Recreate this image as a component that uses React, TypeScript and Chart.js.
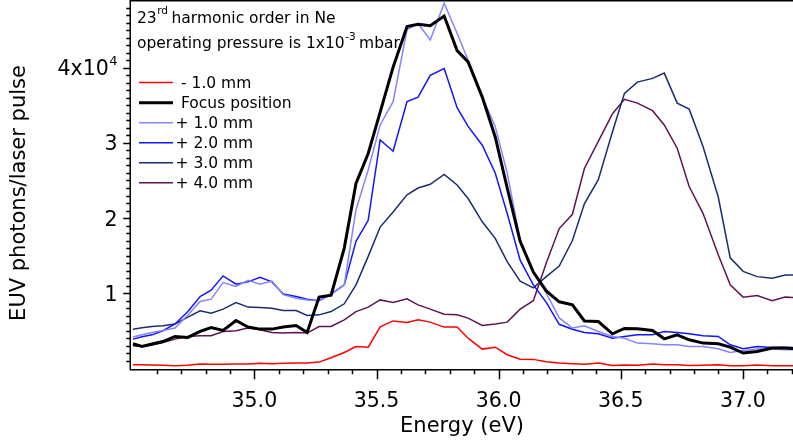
import React, { useEffect, useRef } from 'react';
import { Chart, registerables } from 'chart.js';

Chart.register(...registerables);

// Photon energies (eV) of the spectrometer samples
const energies = [
  34.503, 34.540, 34.581, 34.626, 34.675, 34.728, 34.778, 34.823, 34.872, 34.925,
  34.974, 35.023, 35.072, 35.118, 35.171, 35.216, 35.265, 35.314, 35.368, 35.416,
  35.466, 35.515, 35.568, 35.625, 35.670, 35.720, 35.777, 35.830, 35.875, 35.933,
  35.986, 36.035, 36.088, 36.142, 36.195, 36.248, 36.302, 36.351, 36.408, 36.466,
  36.515, 36.568, 36.630, 36.678, 36.731, 36.780, 36.837, 36.899, 36.948, 37.001,
  37.058, 37.120, 37.173, 37.222,
];

// EUV photons / laser pulse for each focus offset
const minus1mm = [
  470, 470, 430, 400, 330, 400, 560, 530, 530, 560, 560, 660, 600, 660, 690, 690, 820, 1400, 2100,
  2900, 2800, 5500, 6300, 6100, 6450, 6140, 5480, 5480, 4000, 2550, 2800, 1800, 1200,
  1180, 860, 690, 600, 530, 690, 370, 430, 400, 560, 470, 470, 370, 400, 470, 330, 330, 430, 330, 330, 330,
];
const focusPosition = [
  3260, 2900, 3220, 3560, 4230, 4100, 4900, 5430, 5030, 6360, 5480, 5210, 5210, 5480, 5690, 4760, 9470, 9730, 16000,
  24600, 28600, 34100, 40100, 45500, 45800, 45600, 46900, 42300, 40800, 36100, 30800, 24000, 16900,
  12800, 10300, 8850, 8450, 6300, 6220, 4590, 5300, 5250, 5030, 3920, 4450, 3790, 3350, 3260, 2820, 2020, 2230, 2690, 2690, 2600,
];
const plus1mm = [
  4150, 4450, 4760, 5030, 5350, 7100, 8900, 9200, 11400, 10900, 11700, 11200, 11600, 9800, 9330, 9100, 9000, 9800, 11100,
  21100, 26400, 32400, 35500, 45100, 45900, 43700, 48600, 44600, 41000, 36100, 32200, 26000, 17100,
  12800, 10000, 6700, 5350, 5650, 4900, 4230, 4000, 3350, 3260, 3120, 3120, 2900, 2900, 2600, 2100, 2370, 2550, 2550, 2460, 2460,
];
const plus2mm = [
  3880, 4200, 4450, 5000, 5900, 7550, 9550, 10400, 12300, 11200, 11500, 12100, 11500, 9900, 9550, 9200, 9000, 9870, 11100,
  16900, 19700, 30400, 28900, 35500, 36100, 39000, 39900, 34700, 32200, 29700, 26000, 20600, 14400,
  11100, 8780, 5850, 5200, 4760, 4590, 4000, 4230, 4450, 4450, 4890, 4760, 4590, 4320, 4230, 3120, 2600, 2900, 2770, 2770, 2770,
];
const plus3mm = [
  5200, 5400, 5560, 5650, 5900, 6800, 7650, 7340, 7870, 8750, 8140, 8080, 8000, 7690, 7690, 7020, 7110, 7550, 8580,
  11100, 14900, 18800, 20800, 23100, 24000, 24500, 25800, 24400, 22600, 19500, 17300, 14200, 11600,
  10700, 12200, 13600, 17000, 21900, 25100, 31500, 36600, 38100, 38600, 39300, 35300, 34500, 29500, 22800, 14700, 12900, 12200, 12000, 12400, 12400,
];
const plus4mm = [
  3000, 2900, 3100, 3430, 3880, 4230, 4320, 4320, 4890, 4990, 5350, 5120, 4760, 4680, 4760, 4680, 5560, 5560, 6450,
  7550, 8140, 9100, 8750, 9240, 8440, 7870, 7200, 7110, 6680, 5690, 5880, 6140, 7870,
  9000, 14000, 18600, 20500, 26600, 30200, 33900, 35800, 35300, 34300, 32400, 29300, 24200, 20600, 15100, 11100, 9470, 9680, 9000, 9470, 9400,
];

const seriesLabels = ['- 1.0 mm', 'Focus position', '+ 1.0 mm', '+ 2.0 mm', '+ 3.0 mm', '+ 4.0 mm'];
const seriesData = [minus1mm, focusPosition, plus1mm, plus2mm, plus3mm, plus4mm];
const seriesColors = ['#ff0000', '#000000', '#8585ff', '#1414ff', '#1b2d6c', '#5e1552'];
const seriesWidths = [1.5, 3, 1.5, 1.5, 1.5, 1.5];

const xMajorTicks = [35.0, 35.5, 36.0, 36.5, 37.0];
const yMajorTicks = [10000, 20000, 30000, 40000];
const yTickLabels = ['1', '2', '3', '4x10'];
const yTickExponents = ['', '', '', '4'];

const xTitle = 'Energy (eV)';
const yTitle = 'EUV photons/laser pulse';

const X_MIN = 34.495;
const X_MAX = 37.205;
const Y_MIN = -100;
const Y_MAX = 48900;

const FONT = '"DejaVu Sans", Verdana, sans-serif';

function font(size: number) {
  return `${size}px ${FONT}`;
}

const decorPlugin = {
  id: 'decor',
  afterDraw(chart: any) {
    const { ctx, chartArea } = chart;
    const xs = chart.scales.x;
    const ys = chart.scales.y;
    const { left, right, top, bottom } = chartArea;
    const axX = left - 0.75;
    const axY = bottom + 0.75;

    ctx.save();
    ctx.strokeStyle = '#000';
    ctx.lineWidth = 1.5;
    ctx.lineCap = 'butt';
    // frame
    ctx.beginPath();
    ctx.moveTo(axX, 0);
    ctx.lineTo(axX, axY);
    ctx.lineTo(right, axY);
    ctx.moveTo(axX, top - 0.25);
    ctx.lineTo(right, top - 0.25);
    ctx.stroke();

    // x ticks (0.1 eV minor, 0.5 eV major)
    ctx.beginPath();
    for (let k = Math.ceil((X_MIN + 0.01) * 10); k <= Math.floor(X_MAX * 10); k++) {
      const px = Math.round(xs.getPixelForValue(k / 10)) + 0.5;
      const len = k % 5 === 0 ? 9.5 : 4.5;
      ctx.moveTo(px, axY);
      ctx.lineTo(px, axY + len);
    }
    // y ticks (1000 minor, 10000 major)
    for (let k = 1; k <= Math.floor(Y_MAX / 1000); k++) {
      const py = Math.round(ys.getPixelForValue(k * 1000)) + 0.5;
      const len = k % 10 === 0 ? 7 : 4;
      ctx.moveTo(axX, py);
      ctx.lineTo(axX - len, py);
    }
    ctx.stroke();

    // y tick labels
    ctx.fillStyle = '#000';
    ctx.textBaseline = 'alphabetic';
    const labelRight = 117.5;
    yMajorTicks.forEach((v, i) => {
      const py = ys.getPixelForValue(v);
      let xr = labelRight;
      if (yTickExponents[i]) {
        ctx.font = font(13);
        ctx.textAlign = 'right';
        ctx.fillText(yTickExponents[i], xr, py - 3);
        xr -= ctx.measureText(yTickExponents[i]).width + 0.5;
      }
      ctx.font = font(20.5);
      ctx.textAlign = 'right';
      ctx.fillText(yTickLabels[i], xr, py + 7.5);
    });

    // y title
    ctx.save();
    ctx.translate(20, 193);
    ctx.rotate(-Math.PI / 2);
    ctx.font = font(21);
    ctx.textAlign = 'center';
    ctx.textBaseline = 'middle';
    ctx.fillText(yTitle, 0, 0);
    ctx.restore();

    // header text with superscripts
    ctx.textAlign = 'left';
    ctx.textBaseline = 'alphabetic';
    let x = 137;
    ctx.font = font(15.5);
    ctx.fillText('23', x, 22.5);
    x += ctx.measureText('23').width + 0.5;
    ctx.font = font(10.5);
    ctx.fillText('rd', x, 13.5);
    x += ctx.measureText('rd').width + 3.5;
    ctx.font = font(15.5);
    ctx.fillText('harmonic order in Ne', x, 22.5);

    x = 137;
    ctx.font = font(15.5);
    const l2 = 'operating pressure is 1x10';
    ctx.fillText(l2, x, 47.7);
    x += ctx.measureText(l2).width + 0.5;
    ctx.font = font(10.5);
    ctx.fillText('-3', x, 39.5);
    x += ctx.measureText('-3').width + 3.5;
    ctx.font = font(15.5);
    ctx.fillText('mbar', x, 47.7);

    // legend
    seriesLabels.forEach((lab, i) => {
      const cy = 82.6 + i * 20.05;
      ctx.strokeStyle = seriesColors[i];
      ctx.lineWidth = seriesWidths[i];
      ctx.beginPath();
      ctx.moveTo(139, cy);
      ctx.lineTo(173, cy);
      ctx.stroke();
      ctx.font = font(15.5);
      ctx.fillStyle = '#000';
      const tx = lab.startsWith('+') ? 175.5 : 181;
      ctx.fillText(lab, tx, cy + 5.6);
    });

    ctx.restore();
  },
};

export default function App() {
  const canvasRef = useRef<HTMLCanvasElement | null>(null);

  useEffect(() => {
    const canvas = canvasRef.current;
    if (!canvas) return;
    const datasets = seriesData.map((vals, i) => ({
      label: seriesLabels[i],
      data: energies.map((e, j) => ({ x: e, y: vals[j] })),
      borderColor: seriesColors[i],
      backgroundColor: seriesColors[i],
      borderWidth: seriesWidths[i],
      pointRadius: 0,
      tension: 0,
      fill: false,
      borderJoinStyle: 'miter' as const,
    }));

    const chart = new Chart(canvas, {
      type: 'line',
      data: { datasets },
      options: {
        animation: false,
        responsive: true,
        maintainAspectRatio: false,
        devicePixelRatio: 1,
        layout: { padding: { top: 1, right: 0, bottom: 0, left: 0 } },
        plugins: {
          legend: { display: false },
          tooltip: { enabled: false },
        },
        scales: {
          x: {
            type: 'linear',
            min: X_MIN,
            max: X_MAX,
            grid: { display: false, drawTicks: false },
            border: { display: false },
            afterBuildTicks: (s: any) => {
              s.ticks = xMajorTicks.map((v) => ({ value: v }));
            },
            afterFit: (s: any) => {
              s.height = 79;
            },
            ticks: {
              autoSkip: false,
              maxRotation: 0,
              padding: 20,
              color: '#000',
              font: { family: FONT, size: 20.5 },
              callback: (v: any) => Number(v).toFixed(1),
            },
            title: {
              display: true,
              text: xTitle,
              color: '#000',
              font: { family: FONT, size: 21 },
              padding: { top: 0, bottom: 9 },
            },
          },
          y: {
            type: 'linear',
            min: Y_MIN,
            max: Y_MAX,
            grid: { display: false, drawTicks: false },
            border: { display: false },
            afterBuildTicks: (s: any) => {
              s.ticks = yMajorTicks.map((v) => ({ value: v }));
            },
            afterFit: (s: any) => {
              s.width = 131;
            },
            ticks: { display: false },
          },
        },
      },
      plugins: [decorPlugin],
    });
    return () => chart.destroy();
  }, []);

  return (
    <div style={{ position: 'fixed', left: 0, top: 0, width: 793, height: 448, background: '#fff' }}>
      <canvas ref={canvasRef} />
    </div>
  );
}
